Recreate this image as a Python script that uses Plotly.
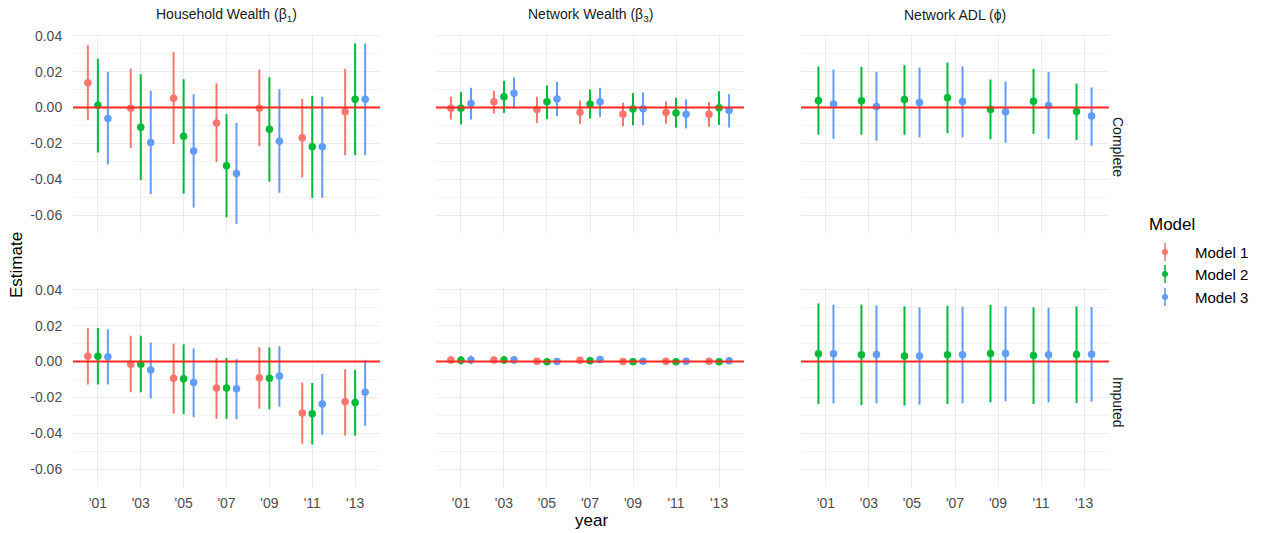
import plotly.graph_objects as go

# ---------------- data ----------------
YEARS = ["'01", "'03", "'05", "'07", "'09", "'11", "'13"]
MODELS = ["Model 1", "Model 2", "Model 3"]
COLORS = ["#F8766D", "#00BA38", "#619CFF"]
PANEL_TITLES = ["Household Wealth (β<sub>1</sub>)", "Network Wealth (β<sub>3</sub>)", "Network ADL (ϕ)"]
ROW_LABELS = ["Complete", "Imputed"]
Y_TICKS = [-0.06, -0.04, -0.02, 0.00, 0.02, 0.04]

# Household Wealth, Complete
HW_C_M1_EST = [0.0138, -0.0004, 0.0052, -0.0087, -0.0004, -0.0169, -0.0024]
HW_C_M1_LO = [-0.0071, -0.0225, -0.0204, -0.0303, -0.0216, -0.0390, -0.0266]
HW_C_M1_HI = [0.0348, 0.0217, 0.0309, 0.0134, 0.0212, 0.0048, 0.0216]
HW_C_M2_EST = [0.0013, -0.0110, -0.0160, -0.0325, -0.0121, -0.0219, 0.0046]
HW_C_M2_LO = [-0.0251, -0.0405, -0.0480, -0.0613, -0.0414, -0.0504, -0.0266]
HW_C_M2_HI = [0.0273, 0.0186, 0.0158, -0.0037, 0.0169, 0.0065, 0.0357]
HW_C_M3_EST = [-0.0061, -0.0195, -0.0242, -0.0368, -0.0188, -0.0219, 0.0046]
HW_C_M3_LO = [-0.0318, -0.0483, -0.0558, -0.0650, -0.0476, -0.0504, -0.0266]
HW_C_M3_HI = [0.0199, 0.0093, 0.0074, -0.0086, 0.0102, 0.0060, 0.0357]

# Network Wealth, Complete
NW_C_M1_EST = [-0.0004, 0.0032, -0.0011, -0.0026, -0.0037, -0.0028, -0.0037]
NW_C_M1_LO = [-0.0067, -0.0033, -0.0086, -0.0091, -0.0104, -0.0091, -0.0108]
NW_C_M1_HI = [0.0060, 0.0093, 0.0060, 0.0039, 0.0026, 0.0033, 0.0030]
NW_C_M2_EST = [-0.0004, 0.0060, 0.0032, 0.0020, -0.0009, -0.0030, -0.0002]
NW_C_M2_LO = [-0.0095, -0.0030, -0.0065, -0.0061, -0.0099, -0.0112, -0.0097]
NW_C_M2_HI = [0.0087, 0.0149, 0.0123, 0.0100, 0.0080, 0.0054, 0.0091]
NW_C_M3_EST = [0.0022, 0.0080, 0.0048, 0.0032, -0.0007, -0.0037, -0.0017]
NW_C_M3_LO = [-0.0067, -0.0006, -0.0048, -0.0052, -0.0099, -0.0117, -0.0112]
NW_C_M3_HI = [0.0110, 0.0167, 0.0143, 0.0110, 0.0084, 0.0045, 0.0074]

# Network ADL, Complete (Models 2 and 3 only)
ADL_C_M2_EST = [0.0039, 0.0037, 0.0045, 0.0054, -0.0011, 0.0035, -0.0022]
ADL_C_M2_LO = [-0.0152, -0.0152, -0.0152, -0.0143, -0.0177, -0.0147, -0.0182]
ADL_C_M2_HI = [0.0229, 0.0227, 0.0236, 0.0251, 0.0156, 0.0216, 0.0134]
ADL_C_M3_EST = [0.0019, 0.0006, 0.0028, 0.0033, -0.0024, 0.0011, -0.0048]
ADL_C_M3_LO = [-0.0175, -0.0186, -0.0167, -0.0167, -0.0197, -0.0175, -0.0214]
ADL_C_M3_HI = [0.0212, 0.0199, 0.0223, 0.0230, 0.0145, 0.0197, 0.0112]

# Household Wealth, Imputed
HW_I_M1_EST = [0.0030, -0.0015, -0.0094, -0.0148, -0.0091, -0.0287, -0.0224]
HW_I_M1_LO = [-0.0128, -0.0172, -0.0291, -0.0320, -0.0263, -0.0459, -0.0413]
HW_I_M1_HI = [0.0187, 0.0144, 0.0100, 0.0020, 0.0080, -0.0117, -0.0043]
HW_I_M2_EST = [0.0030, -0.0015, -0.0096, -0.0148, -0.0093, -0.0291, -0.0228]
HW_I_M2_LO = [-0.0128, -0.0172, -0.0294, -0.0320, -0.0267, -0.0463, -0.0413]
HW_I_M2_HI = [0.0187, 0.0144, 0.0096, 0.0020, 0.0078, -0.0120, -0.0048]
HW_I_M3_EST = [0.0026, -0.0048, -0.0117, -0.0152, -0.0081, -0.0237, -0.0172]
HW_I_M3_LO = [-0.0128, -0.0206, -0.0311, -0.0322, -0.0252, -0.0409, -0.0359]
HW_I_M3_HI = [0.0180, 0.0106, 0.0074, 0.0013, 0.0085, -0.0070, 0.0009]

# Network Wealth, Imputed
NW_I_M1_EST = [0.0009, 0.0009, 0.0002, 0.0007, 0.0000, 0.0002, 0.0002]
NW_I_M1_LO = [-0.0009, -0.0009, -0.0006, -0.0001, -0.0006, -0.0004, -0.0004]
NW_I_M1_HI = [0.0028, 0.0028, 0.0010, 0.0015, 0.0006, 0.0008, 0.0008]
NW_I_M2_EST = [0.0007, 0.0009, -0.0002, 0.0004, -0.0002, -0.0002, -0.0002]
NW_I_M2_LO = [-0.0017, -0.0013, -0.0012, -0.0004, -0.0009, -0.0009, -0.0008]
NW_I_M2_HI = [0.0031, 0.0031, 0.0008, 0.0012, 0.0005, 0.0005, 0.0004]
NW_I_M3_EST = [0.0009, 0.0009, 0.0000, 0.0011, 0.0002, 0.0002, 0.0004]
NW_I_M3_LO = [-0.0015, -0.0013, -0.0012, -0.0001, -0.0005, -0.0005, -0.0002]
NW_I_M3_HI = [0.0033, 0.0031, 0.0012, 0.0023, 0.0009, 0.0009, 0.0010]

# Network ADL, Imputed (Models 2 and 3 only)
ADL_I_M2_EST = [0.0043, 0.0037, 0.0031, 0.0037, 0.0044, 0.0033, 0.0039]
ADL_I_M2_LO = [-0.0237, -0.0243, -0.0246, -0.0237, -0.0228, -0.0237, -0.0231]
ADL_I_M2_HI = [0.0324, 0.0317, 0.0307, 0.0311, 0.0315, 0.0302, 0.0307]
ADL_I_M3_EST = [0.0043, 0.0039, 0.0031, 0.0037, 0.0044, 0.0037, 0.0041]
ADL_I_M3_LO = [-0.0233, -0.0233, -0.0241, -0.0233, -0.0222, -0.0228, -0.0224]
ADL_I_M3_HI = [0.0317, 0.0313, 0.0302, 0.0306, 0.0307, 0.0300, 0.0304]

# (row, col) -> list of (model index, est, lo, hi)
PANELS = {
    (0, 0): [(0, HW_C_M1_EST, HW_C_M1_LO, HW_C_M1_HI), (1, HW_C_M2_EST, HW_C_M2_LO, HW_C_M2_HI), (2, HW_C_M3_EST, HW_C_M3_LO, HW_C_M3_HI)],
    (0, 1): [(0, NW_C_M1_EST, NW_C_M1_LO, NW_C_M1_HI), (1, NW_C_M2_EST, NW_C_M2_LO, NW_C_M2_HI), (2, NW_C_M3_EST, NW_C_M3_LO, NW_C_M3_HI)],
    (0, 2): [(1, ADL_C_M2_EST, ADL_C_M2_LO, ADL_C_M2_HI), (2, ADL_C_M3_EST, ADL_C_M3_LO, ADL_C_M3_HI)],
    (1, 0): [(0, HW_I_M1_EST, HW_I_M1_LO, HW_I_M1_HI), (1, HW_I_M2_EST, HW_I_M2_LO, HW_I_M2_HI), (2, HW_I_M3_EST, HW_I_M3_LO, HW_I_M3_HI)],
    (1, 1): [(0, NW_I_M1_EST, NW_I_M1_LO, NW_I_M1_HI), (1, NW_I_M2_EST, NW_I_M2_LO, NW_I_M2_HI), (2, NW_I_M3_EST, NW_I_M3_LO, NW_I_M3_HI)],
    (1, 2): [(1, ADL_I_M2_EST, ADL_I_M2_LO, ADL_I_M2_HI), (2, ADL_I_M3_EST, ADL_I_M3_LO, ADL_I_M3_HI)],
}

# ---------------- layout geometry ----------------
W, H = 1262, 533
FONT = "Liberation Sans, Arial, Helvetica, sans-serif"
COL_PX = [(73, 380), (436, 744), (801, 1109)]
ROW_PX = [(34, 233), (288, 487)]
DODGE = 0.7

def px_x(p):
    return p / W

def px_y(p):
    return 1 - p / H

fig = go.Figure()
layout = dict(
    width=W, height=H,
    margin=dict(l=0, r=0, t=0, b=0, autoexpand=False),
    paper_bgcolor="white", plot_bgcolor="white",
    showlegend=False,
    font=dict(family=FONT, color="#1A1A1A"),
)
shapes, annotations = [], []

for (r, c), series in PANELS.items():
    n = r * 3 + c + 1
    sfx = "" if n == 1 else str(n)
    xa, ya = "x" + sfx, "y" + sfx
    x0, x1 = COL_PX[c]
    y0, y1 = ROW_PX[r]
    # zero reference line
    shapes.append(dict(type="line", xref=xa + " domain", yref=ya, x0=0, x1=1, y0=0, y1=0,
                       line=dict(color="#FF2A1F", width=2), layer="above"))
    k = len(series)
    for j, (mi, est, lo, hi) in enumerate(series):
        off = (j - (k - 1) / 2) * DODGE / k
        xs = [i + 1 + off for i in range(len(YEARS))]
        fig.add_trace(go.Scatter(
            x=xs, y=est, mode="markers", xaxis=xa, yaxis=ya,
            marker=dict(color=COLORS[mi], size=7.5),
            error_y=dict(type="data", symmetric=False,
                         array=[h - e for h, e in zip(hi, est)],
                         arrayminus=[e - l for e, l in zip(est, lo)],
                         color=COLORS[mi], thickness=2, width=0),
            name=MODELS[mi], hoverinfo="skip",
        ))
    layout["xaxis" + sfx] = dict(
        domain=[px_x(x0), px_x(x1)], anchor=ya, range=[0.42, 7.58], automargin=False,
        tickmode="array", tickvals=list(range(1, len(YEARS) + 1)), ticktext=YEARS,
        showticklabels=(r == 1), showgrid=True, gridcolor="#EBEBEB", gridwidth=1,
        zeroline=False, showline=False, ticks="outside", ticklen=3, tickcolor="rgba(0,0,0,0)",
        tickfont=dict(family=FONT, size=14, color="#4D4D4D"),
    )
    layout["yaxis" + sfx] = dict(
        domain=[px_y(y1), px_y(y0)], anchor=xa, range=[-0.0700, 0.0410], automargin=False,
        tickmode="array", tickvals=Y_TICKS, ticktext=[f"{v:.2f}" for v in Y_TICKS],
        showticklabels=(c == 0), showgrid=True, gridcolor="#EBEBEB", gridwidth=1,
        minor=dict(dtick=0.01, tick0=0.01, showgrid=True, gridcolor="#F3F3F3", gridwidth=1),
        zeroline=False, showline=False, ticks="outside", ticklen=7, tickcolor="rgba(0,0,0,0)",
        tickfont=dict(family=FONT, size=14, color="#4D4D4D"),
    )

# strip titles
for c, t in enumerate(PANEL_TITLES):
    x0, x1 = COL_PX[c]
    annotations.append(dict(text=t, x=px_x((x0 + x1) / 2), y=px_y(15), xref="paper", yref="paper",
                            showarrow=False, xanchor="center", yanchor="middle",
                            font=dict(family=FONT, size=14, color="#1A1A1A")))
for r, t in enumerate(ROW_LABELS):
    yc = [147, 402][r]
    annotations.append(dict(text=t, x=px_x(1118), y=px_y(yc), xref="paper", yref="paper",
                            showarrow=False, textangle=90, xanchor="center", yanchor="middle",
                            font=dict(family=FONT, size=14, color="#1A1A1A")))

# axis titles
annotations.append(dict(text="Estimate", x=px_x(16), y=px_y(265), xref="paper", yref="paper",
                        showarrow=False, textangle=-90, xanchor="center", yanchor="middle",
                        font=dict(family=FONT, size=17, color="#000000")))
annotations.append(dict(text="year", x=px_x(591), y=px_y(520), xref="paper", yref="paper",
                        showarrow=False, xanchor="center", yanchor="middle",
                        font=dict(family=FONT, size=17, color="#000000")))

# legend (drawn manually, pointrange glyphs)
annotations.append(dict(text="Model", x=px_x(1147), y=px_y(224), xref="paper", yref="paper",
                        showarrow=False, xanchor="left", yanchor="middle",
                        font=dict(family=FONT, size=17, color="#000000")))
for i, (m, col) in enumerate(zip(MODELS, COLORS)):
    yc = [252, 274, 297][i]
    shapes.append(dict(type="line", xref="paper", yref="paper", x0=px_x(1165), x1=px_x(1165),
                       y0=px_y(yc - 9), y1=px_y(yc + 9), line=dict(color=col, width=1.6)))
    shapes.append(dict(type="circle", xref="paper", yref="paper", x0=px_x(1162), x1=px_x(1168),
                       y0=px_y(yc - 3), y1=px_y(yc + 3), fillcolor=col, line=dict(color=col, width=0)))
    annotations.append(dict(text=m, x=px_x(1193), y=px_y(yc), xref="paper", yref="paper",
                            showarrow=False, xanchor="left", yanchor="middle",
                            font=dict(family=FONT, size=15, color="#000000")))

layout["shapes"] = shapes
layout["annotations"] = annotations
fig.update_layout(**layout)
fig.write_html("out.html")
